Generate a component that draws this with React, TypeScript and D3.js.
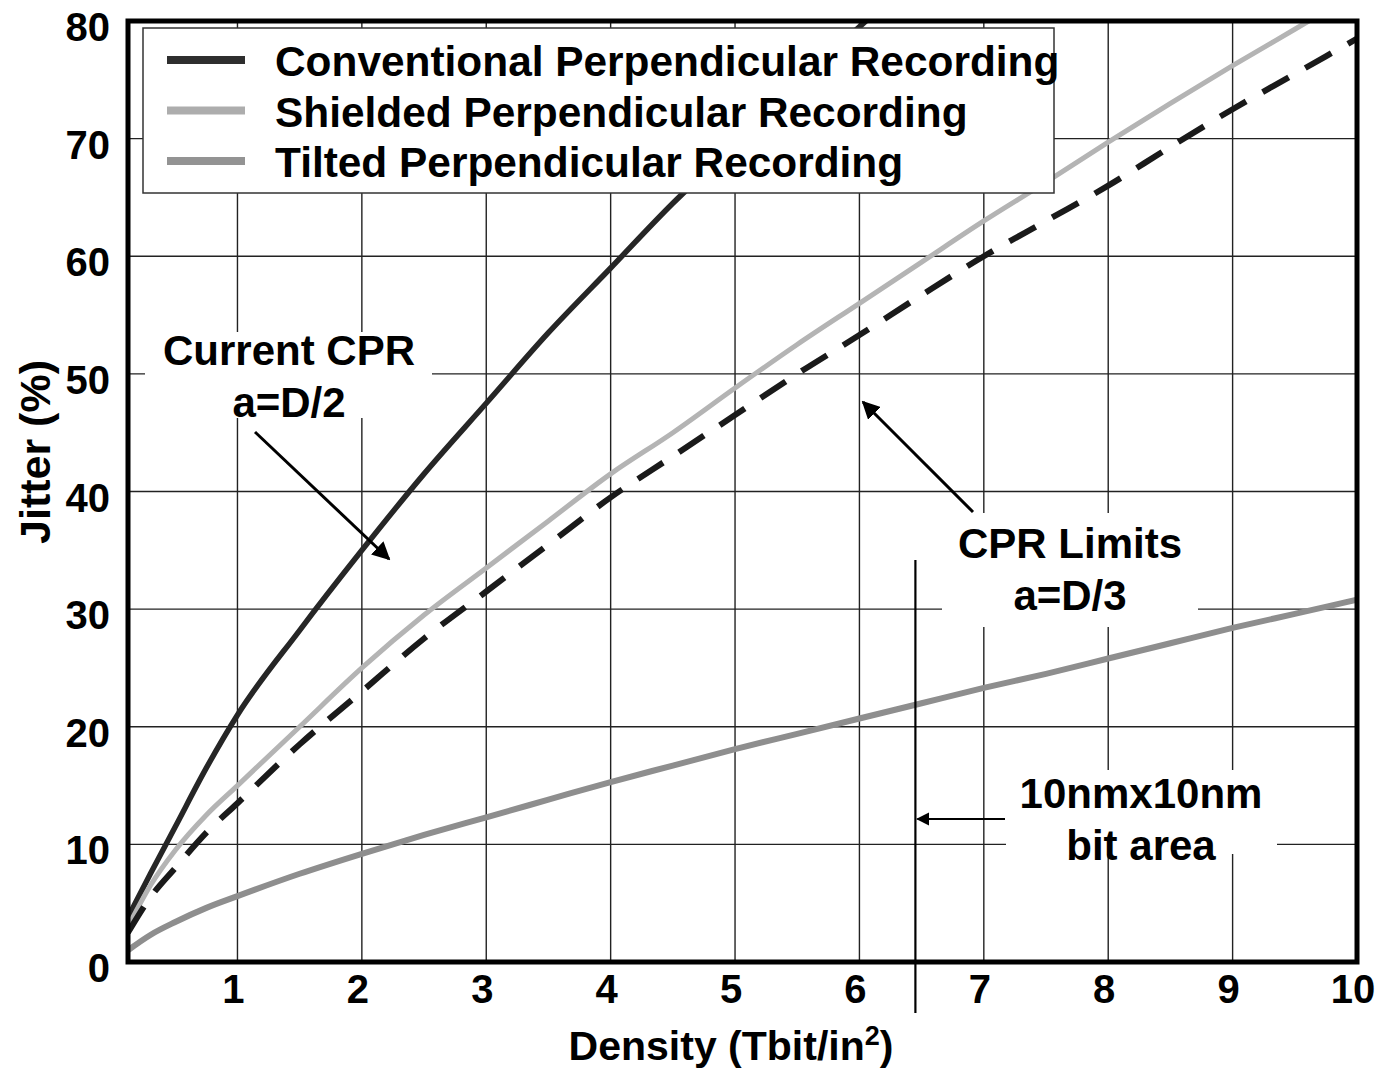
import React from "react";
import * as d3 from "d3";

// density (Tbit/in^2) sample points shared by every curve
const density = [0.12, 0.3, 0.5, 0.75, 1, 1.5, 2, 2.5, 3, 3.5, 4, 4.5, 5, 5.5, 6, 6.5, 7, 7.5, 8, 8.5, 9, 9.5, 10];

const conventional = [3.8, 7.5, 11.5, 16.5, 21, 28.2, 35, 41.5, 47.5, 53.5, 59, 64.5, 69.5, 74.5, 79.5, 84, 88, 92, 96, 100, 104, 108, 112];
const shielded = [3, 6.5, 9.5, 12.5, 15, 20, 25, 29.5, 33.5, 37.5, 41.5, 45, 48.8, 52.5, 56, 59.5, 63, 66.3, 69.7, 73, 76.2, 79.3, 82.4];
const cprLimit = [2.5, 5.5, 8, 11, 13.5, 18.5, 23, 27.5, 31.5, 35.5, 39.5, 43, 46.5, 50, 53.3, 56.7, 60, 63, 66, 69.3, 72.5, 75.5, 78.5];
const tilted = [1, 2.3, 3.4, 4.6, 5.6, 7.5, 9.2, 10.8, 12.3, 13.8, 15.3, 16.7, 18.1, 19.4, 20.7, 22, 23.3, 24.5, 25.8, 27.1, 28.4, 29.6, 30.8];

const xTicks = [1, 2, 3, 4, 5, 6, 7, 8, 9, 10];
const yTicks = [0, 10, 20, 30, 40, 50, 60, 70, 80];
const legendLabels = [
  "Conventional Perpendicular Recording",
  "Shielded Perpendicular Recording",
  "Tilted Perpendicular Recording",
];
const bitAreaDensity = 6.45;

const FONT = "'Liberation Sans', Arial, Helvetica, sans-serif";

export default function App() {
  const left = 128, right = 1357, top = 21, bottom = 962;
  const x = d3.scaleLinear().domain([0.12, 10]).range([left, right]);
  const y = d3.scaleLinear().domain([0, 80]).range([bottom, top]);

  const line = (vals: number[]) =>
    d3.line<number>()
      .x((_, i) => x(density[i]))
      .y((v) => y(v))
      .curve(d3.curveMonotoneX)(vals) || "";

  const series = [
    { vals: conventional, color: "#262626", width: 5.5, dash: undefined },
    { vals: shielded, color: "#b4b4b4", width: 5, dash: undefined },
    { vals: cprLimit, color: "#1a1a1a", width: 6, dash: "30,19" },
    { vals: tilted, color: "#8e8e8e", width: 6, dash: undefined },
  ];
  const legendColors = ["#2e2e2e", "#adadad", "#939393"];

  const textStyle = { fontFamily: FONT, fontWeight: 700, fontSize: 42, fill: "#000" } as const;

  return (
    <svg width={1379} height={1071} style={{ position: "absolute", left: 0, top: 0, background: "#fff" }}>
      <defs>
        <clipPath id="plot">
          <rect x={left} y={top} width={right - left} height={bottom - top} />
        </clipPath>
        <marker id="arrow" viewBox="0 0 10 10" refX="9" refY="5" markerWidth="6" markerHeight="6" orient="auto">
          <path d="M0,0 L10,5 L0,10 Z" fill="#000" />
        </marker>
      </defs>

      {/* grid */}
      {xTicks.slice(0, -1).map((t) => (
        <line key={"gx" + t} x1={x(t)} x2={x(t)} y1={top} y2={bottom} stroke="#222" strokeWidth={1.4} />
      ))}
      {yTicks.slice(1, -1).map((t) => (
        <line key={"gy" + t} x1={left} x2={right} y1={y(t)} y2={y(t)} stroke="#222" strokeWidth={1.4} />
      ))}

      {/* white boxes behind annotations */}
      <rect x={145} y={332} width={287} height={86} fill="#fff" />
      <rect x={942} y={513} width={256} height={114} fill="#fff" />
      <rect x={1006} y={770} width={271} height={84} fill="#fff" />

      {/* curves */}
      <g clipPath="url(#plot)">
        {series.map((s, i) => (
          <path key={i} d={line(s.vals)} fill="none" stroke={s.color} strokeWidth={s.width}
            strokeDasharray={s.dash} strokeLinejoin="round" />
        ))}
      </g>

      {/* bit area marker */}
      <line x1={x(bitAreaDensity)} x2={x(bitAreaDensity)} y1={560} y2={1013} stroke="#000" strokeWidth={2.2} />

      {/* frame */}
      <rect x={left} y={top} width={right - left} height={bottom - top} fill="none" stroke="#000" strokeWidth={5} />

      {/* legend */}
      <rect x={143} y={28} width={911} height={165} fill="#fff" stroke="#333" strokeWidth={1.5} />
      {legendLabels.map((lab, i) => (
        <g key={lab}>
          <line x1={167} x2={245} y1={60 + i * 50.5} y2={60 + i * 50.5} stroke={legendColors[i]} strokeWidth={8} />
          <text x={275} y={76 + i * 50.5} style={{ ...textStyle, fontSize: 42.4 }}>{lab}</text>
        </g>
      ))}

      {/* tick labels */}
      {yTicks.map((t) => (
        <text key={"yl" + t} x={110} y={y(t) + 20} textAnchor="end" style={{ ...textStyle, fontSize: 40 }}>{t}</text>
      ))}
      {xTicks.map((t) => (
        <text key={"xl" + t} x={x(t) - 4} y={1003} textAnchor="middle" style={{ ...textStyle, fontSize: 40 }}>{t}</text>
      ))}

      {/* axis titles */}
      <text x={731} y={1060} textAnchor="middle" style={{ ...textStyle, fontSize: 41 }}>
        Density (Tbit/in<tspan fontSize={27} dy={-15}>2</tspan><tspan dy={15}>)</tspan>
      </text>
      <text transform="translate(50,452) rotate(-90)" textAnchor="middle" style={{ ...textStyle, fontSize: 43 }}>Jitter (%)</text>

      {/* annotations */}
      <text x={289} y={365} textAnchor="middle" style={textStyle}>Current CPR</text>
      <text x={289} y={417} textAnchor="middle" style={textStyle}>a=D/2</text>
      <line x1={255} y1={432} x2={389} y2={559} stroke="#000" strokeWidth={3} markerEnd="url(#arrow)" />

      <text x={1070} y={558} textAnchor="middle" style={textStyle}>CPR Limits</text>
      <text x={1070} y={610} textAnchor="middle" style={textStyle}>a=D/3</text>
      <line x1={973} y1={512} x2={863} y2={402} stroke="#000" strokeWidth={3} markerEnd="url(#arrow)" />

      <text x={1141} y={808} textAnchor="middle" style={textStyle}>10nmx10nm</text>
      <text x={1141} y={860} textAnchor="middle" style={textStyle}>bit area</text>
      <line x1={1005} y1={819} x2={x(bitAreaDensity) + 2} y2={819} stroke="#000" strokeWidth={2.2} markerEnd="url(#arrow)" />
    </svg>
  );
}
